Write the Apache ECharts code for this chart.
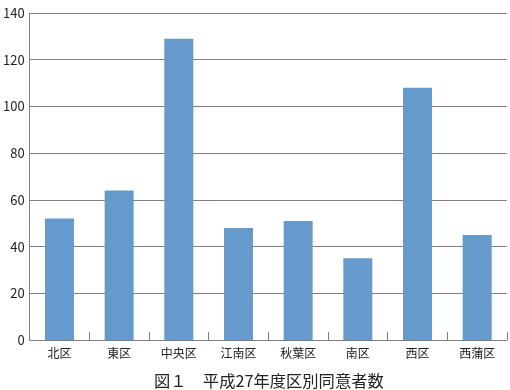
<!DOCTYPE html>
<html>
<head>
<meta charset="utf-8">
<script src="https://cdn.jsdelivr.net/npm/echarts@6/dist/echarts.min.js"></script>
<style>html,body{margin:0;padding:0;background:#fff;}#c{width:510px;height:390px;}</style>
</head>
<body>
<div id="c"></div>
<script>
const categories = ['北区', '東区', '中央区', '江南区', '秋葉区', '南区', '西区', '西蒲区'];
const values = [52, 64, 129, 48, 51, 35, 108, 45];
const yTicks = { min: 0, max: 140, interval: 20 };
const titleText = '図１　平成27年度区別同意者数';

const font = '"Noto Sans CJK JP", "Noto Sans", sans-serif';
const chart = echarts.init(document.getElementById('c'), null, { renderer: 'canvas' });
chart.setOption({
  animation: false,
  backgroundColor: '#ffffff',
  textStyle: { fontFamily: font },
  title: {
    text: titleText,
    left: 154,
    top: 373,
    padding: 0,
    textStyle: { fontFamily: font, fontSize: 16.3, fontWeight: 'normal', color: '#222' }
  },
  grid: { left: 29, right: 3, top: 13, bottom: 50, containLabel: false },
  xAxis: {
    type: 'category',
    data: categories,
    axisLine: { show: true, lineStyle: { color: '#808080', width: 1 } },
    axisTick: { show: true, inside: true, length: 8, lineStyle: { color: '#808080' } },
    axisLabel: { fontFamily: font, fontSize: 12, color: '#222', margin: 7 }
  },
  yAxis: {
    type: 'value',
    min: yTicks.min,
    max: yTicks.max,
    interval: yTicks.interval,
    axisLine: { show: true, lineStyle: { color: '#808080', width: 1 } },
    axisTick: { show: false },
    splitLine: { show: true, lineStyle: { color: '#808080', width: 1 } },
    axisLabel: { fontFamily: font, fontSize: 13, color: '#222', margin: 5 }
  },
  series: [{
    type: 'bar',
    data: values,
    barWidth: 29,
    itemStyle: { color: '#6699cc' }
  }]
});
</script>
</body>
</html>
